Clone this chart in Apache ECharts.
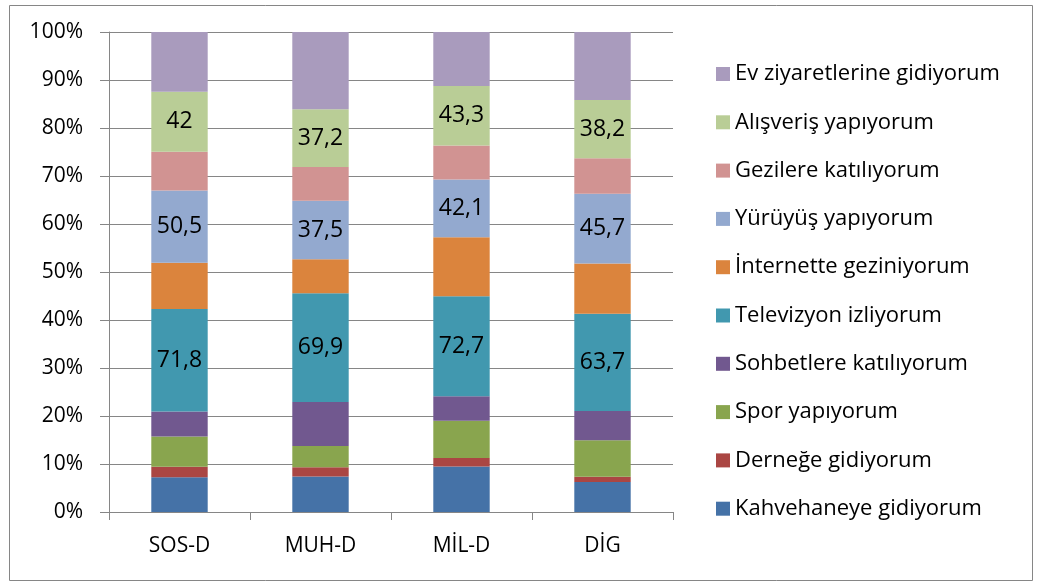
<!DOCTYPE html>
<html>
<head>
<meta charset="utf-8">
<script src="https://cdn.jsdelivr.net/npm/echarts@6/dist/echarts.min.js"></script>
<style>html,body{margin:0;padding:0;background:#fff;}#c{width:1038px;height:581px;}</style>
</head>
<body>
<div id="c"></div>
<script>
var categories = ['SOS-D', 'MUH-D', 'MİL-D', 'DİG'];
var seriesNames = ['Kahvehaneye gidiyorum', 'Derneğe gidiyorum', 'Spor yapıyorum', 'Sohbetlere katılıyorum', 'Televizyon izliyorum', 'İnternette geziniyorum', 'Yürüyüş yapıyorum', 'Gezilere katılıyorum', 'Alışveriş yapıyorum', 'Ev ziyaretlerine gidiyorum'];
var kahvehane = [24.3, 22.8, 33.0, 19.6];
var dernek = [7.4, 5.9, 6.3, 3.5];
var spor = [21.2, 13.7, 27.1, 24.0];
var sohbet = [17.5, 28.2, 17.8, 19.1];
var televizyon = [71.8, 69.9, 72.7, 63.7];
var internet = [32.4, 21.9, 42.8, 33.0];
var yuruyus = [50.5, 37.5, 42.1, 45.7];
var gezi = [27.3, 21.7, 24.6, 23.2];
var alisveris = [42, 37.2, 43.3, 38.2];
var ev = [41.8, 49.6, 39.3, 44.6];
var labeled = [false, false, false, false, true, false, true, false, true, false];
var yTicks = ['0%', '10%', '20%', '30%', '40%', '50%', '60%', '70%', '80%', '90%', '100%'];
var colors = ['#4572A7', '#AA4643', '#89A54E', '#71588F', '#4198AF', '#DB843D', '#93A9CF', '#D19392', '#B9CD96', '#A99BBD'];

var allSeries = [kahvehane, dernek, spor, sohbet, televizyon, internet, yuruyus, gezi, alisveris, ev];
var totals = categories.map(function (c, i) {
  return allSeries.reduce(function (s, arr) { return s + arr[i]; }, 0);
});
var FONT = 'Open Sans';
var series = allSeries.map(function (arr, k) {
  return {
    name: seriesNames[k],
    type: 'bar',
    stack: 'total',
    barWidth: '40%',
    itemStyle: { color: colors[k] },
    label: {
      show: labeled[k],
      position: 'inside',
      color: '#000',
      fontFamily: FONT,
      fontSize: 23,
      formatter: function (p) { return String(arr[p.dataIndex]).replace('.', ','); }
    },
    data: arr.map(function (v, i) { return v / totals[i] * 100; })
  };
});

var chart = echarts.init(document.getElementById('c'), null, { renderer: 'canvas' });
chart.setOption({
  animation: false,
  textStyle: { fontFamily: FONT },
  graphic: [{
    type: 'rect', left: 7, top: 3,
    shape: { x: 0, y: 0, width: 1023, height: 575 },
    style: { fill: 'none', stroke: '#868686', lineWidth: 1 }
  }],
  grid: { left: 109, right: 365, top: 32, bottom: 69 },
  legend: {
    orient: 'vertical',
    left: 716,
    top: 63,
    padding: 0,
    data: seriesNames.slice().reverse(),
    icon: 'rect',
    itemWidth: 14,
    itemHeight: 14,
    itemGap: 26.3,
    textStyle: { fontFamily: FONT, fontSize: 22, color: '#000' }
  },
  xAxis: {
    type: 'category',
    data: categories,
    axisLine: { lineStyle: { color: '#868686' } },
    axisTick: { show: true, length: 8, lineStyle: { color: '#868686' } },
    axisLabel: { color: '#000', fontFamily: FONT, fontSize: 21, margin: 24 }
  },
  yAxis: {
    type: 'value',
    min: 0, max: 100, interval: 10,
    axisLine: { show: true, lineStyle: { color: '#868686' } },
    axisTick: { show: true, length: 9, lineStyle: { color: '#868686' } },
    splitLine: { lineStyle: { color: '#868686' } },
    axisLabel: {
      color: '#000', fontFamily: FONT, fontSize: 21, margin: 26,
      formatter: function (v) { return yTicks[Math.round(v / 10)]; }
    }
  },
  series: series
});
</script>
</body>
</html>
